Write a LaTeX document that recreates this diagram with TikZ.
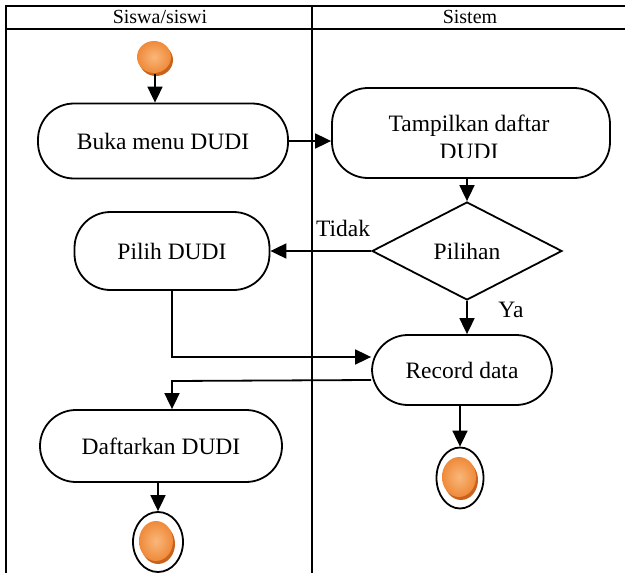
\documentclass[tikz,border=0pt]{standalone}
\usepackage{fontspec}
\setmainfont{Liberation Serif}
\usetikzlibrary{shapes.geometric,arrows.meta}
\definecolor{ballhi}{HTML}{F9B77A}
\definecolor{balllo}{HTML}{EF8A3A}
\definecolor{ballsh}{HTML}{C8621C}
\tikzset{
  lane/.style={line width=2pt},
  act/.style={draw, line width=1.8pt, rounded corners=36pt, inner sep=0pt,
    font=\fontsize{23.5}{28}\selectfont, align=center},
  choice/.style={draw, diamond, line width=1.8pt, inner sep=0pt, aspect=1.94,
    minimum width=190pt, minimum height=98pt, font=\fontsize{23.5}{28}\selectfont},
  arr/.style={line width=1.8pt, -{Triangle[length=16pt,width=15pt]}},
  lbl/.style={font=\fontsize{23.5}{28}\selectfont, inner sep=0pt},
  head/.style={font=\fontsize{20}{24}\selectfont, inner sep=0pt},
  ring/.style={draw, ellipse, line width=1.8pt, inner sep=0pt},
}
% an orange ball with its drop shadow
\newcommand{\orangeball}[3]{%
  \fill[ballsh] (#1+2,#2+3) ellipse [x radius=17pt, y radius=#3pt];
  \shade[inner color=ballhi, outer color=balllo] (#1,#2) ellipse [x radius=17pt, y radius=#3pt];
}
\begin{document}
\begin{tikzpicture}[x=1pt,y=-1pt]
\useasboundingbox (0,0) rectangle (625,573);
% swimlane table
\draw[lane] (6,573) -- (6,6) -- (630,6);
\draw[lane] (6,29) -- (630,29);
\draw[lane] (312,6) -- (312,573);
\node[head] (h1) at (160,17) {Siswa/siswi};
\node[head] (h2) at (470,17) {Sistem};

% start
\node[circle, minimum size=34pt, inner sep=0pt] (start) at (155,57) {};
\orangeball{154}{57}{16}

% activities
\node[act, minimum width=250pt, minimum height=75pt] (buka) at (163,141) {Buka menu DUDI};
\node[act, minimum width=278pt, minimum height=90pt] (tamp) at (471,133) {};
\begin{scope}
  \clip (332,88) rectangle (610,157);
  \node[lbl, align=center] (tamptxt) at (469,137) {Tampilkan daftar\\DUDI};
\end{scope}
\node[choice] (dia) at (467,251) {Pilihan};
\node[act, minimum width=195pt, minimum height=78pt] (pilih) at (172,251) {Pilih DUDI};
\node[act, minimum width=180pt, minimum height=70pt] (rec) at (462,370) {Record data};
\node[act, minimum width=242pt, minimum height=72pt] (daft) at (161,446) {Daftarkan DUDI};

% end states
\node[ring, minimum width=50pt, minimum height=60pt] (end1) at (158,542) {};
\orangeball{156}{541}{20}
\node[ring, minimum width=47pt, minimum height=61pt] (end2) at (460,478) {};
\orangeball{459}{477}{20}

% labels
\node[lbl] (tidak) at (343,228) {Tidak};
\node[lbl] (ya) at (511,310) {Ya};

% connectors
\draw[arr] (start.south) -- (start.south |- buka.north);
\draw[arr] (buka.east) -- (buka.east -| tamp.west);
\draw[arr] (dia.north |- tamp.south) -- (dia.north);
\draw[arr] (dia.west) -- (pilih.east);
\draw[arr] (dia.south) -- (dia.south |- rec.north);
\draw[arr] (pilih.south) |- ([yshift=13pt]rec.west);
\coordinate (bend) at (172,381);
\draw[arr] ([yshift=-10pt]rec.west) -- (bend) -- (bend |- daft.north);
\draw[arr] (end1.north |- daft.south) -- (end1.north);
\draw[arr] (end2.north |- rec.south) -- (end2.north);
\end{tikzpicture}
\end{document}
